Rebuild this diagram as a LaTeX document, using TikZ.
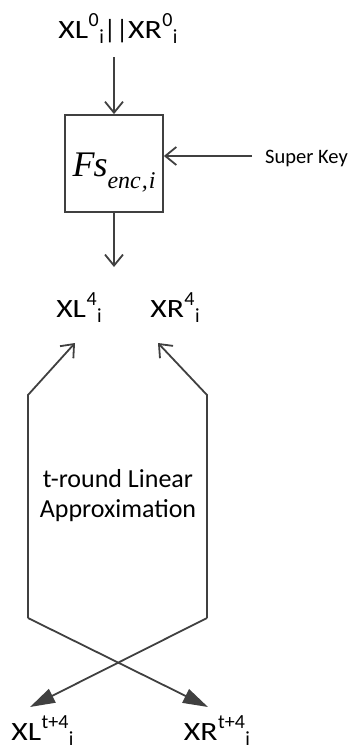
\documentclass[tikz,border=0pt]{standalone}
\usepackage{fontspec}
\setmainfont{Carlito}
\newfontfamily\timesfont{Liberation Serif}
\usetikzlibrary{arrows.meta}
\definecolor{ln}{HTML}{404040}
\newcommand\W[1]{\scalebox{1.2}[1]{#1}}
\newcommand\mysup[1]{\kern0.5pt\raisebox{12pt}{\fontsize{20}{20}\selectfont #1}}
\newcommand\mysub[1]{\kern0.5pt\raisebox{-5.5pt}{\fontsize{20}{20}\selectfont #1}}
\tikzset{
  lbl/.style={font=\fontsize{26.4}{26.4}\selectfont, inner sep=0pt, text=black},
  conn/.style={draw=ln, line width=1.8pt},
  openarr/.style={conn, -{Straight Barb[length=11pt,width=18pt,line width=1.8pt]}},
  fillarr/.style={conn, -{Triangle[length=25pt,width=15pt]}},
  fbox/.style={draw=ln, line width=1.8pt, minimum width=98pt, minimum height=97pt, inner sep=0pt}
}
\begin{document}
\begin{tikzpicture}[x=1pt,y=-1pt]
\useasboundingbox (0,0) rectangle (351,753);
% labels
\node[lbl, anchor=base] (top) at (118,38) {\W{XL}\mysup{0}\mysub{i}||\W{XR}\mysup{0}\mysub{i}};
\node[fbox] (F) at (114,163.5) {};
\node[anchor=base, inner sep=0pt] (Ftxt) at (114,176) {\timesfont\itshape\fontsize{36}{36}\selectfont F\kern-1pt s\raisebox{-12pt}{\fontsize{24}{24}\selectfont enc\kern1pt,\kern1pt i}};
\node[anchor=base west, inner sep=0pt, font=\fontsize{20.5}{20.5}\selectfont] (sk) at (265,163) {Super Key};
\node[lbl, anchor=base] (xl4) at (79,317) {\W{XL}\mysup{4}\mysub{i}};
\node[lbl, anchor=base] (xr4) at (175,317) {\W{XR}\mysup{4}\mysub{i}};
\node[lbl, anchor=base] (xlt) at (42.5,740) {\W{XL}\mysup{t+4}\mysub{i}};
\node[lbl, anchor=base] (xrt) at (217,740) {\W{XR}\mysup{t+4}\mysub{i}};
\node[align=center, inner sep=0pt, font=\fontsize{26}{30}\selectfont] (lin) at (118,496) {t-round Linear\\Approximation};
% coordinates
\coordinate (a0) at (114,57);
\coordinate (b0) at (114,267);
\coordinate (sk0) at (252,156);
\coordinate (l1) at (28,395);
\coordinate (l2) at (28,618);
\coordinate (r1) at (207,395);
\coordinate (r2) at (207,618);
\coordinate (tl) at (75,343);
\coordinate (tr) at (158,343);
\coordinate (bl) at (30,707);
\coordinate (br) at (208,707);
% connectors
\draw[openarr] (a0) -- (F.north);
\draw[openarr] (F.south) -- (b0);
\draw[openarr] (sk0) -- (sk0 -| F.east);
\draw[openarr] (l2) -- (l1) -- (tl);
\draw[openarr] (r2) -- (r1) -- (tr);
\draw[fillarr] (l2) -- (br);
\draw[fillarr] (r2) -- (bl);
\end{tikzpicture}
\end{document}
